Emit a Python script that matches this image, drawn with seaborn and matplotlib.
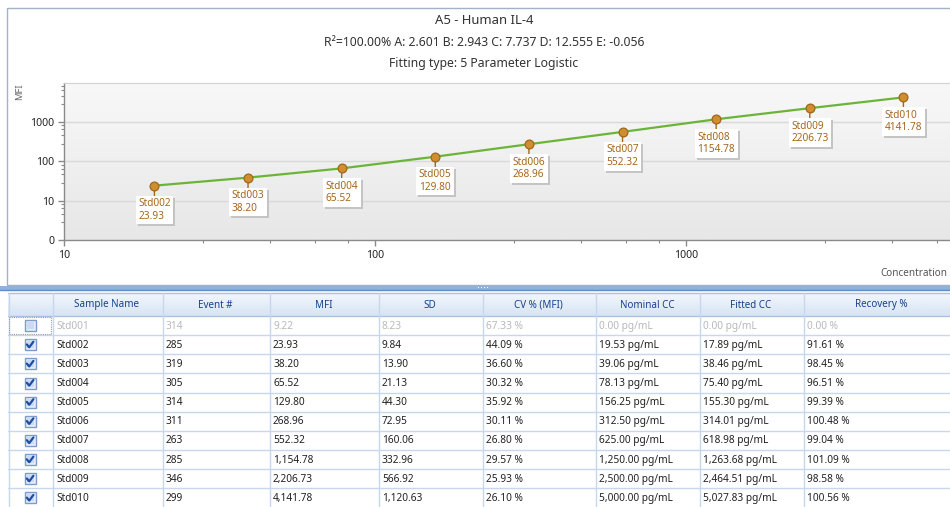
import numpy as np
import pandas as pd
import seaborn as sns
import matplotlib.pyplot as plt
import matplotlib.patheffects as pe
from matplotlib.patches import Rectangle
from matplotlib.colors import LinearSegmentedColormap
from matplotlib.ticker import FixedLocator, NullFormatter

# --------------------------- DATA ---------------------------
sample_names = ['Std001', 'Std002', 'Std003', 'Std004', 'Std005',
                'Std006', 'Std007', 'Std008', 'Std009', 'Std010']
included = [False, True, True, True, True, True, True, True, True, True]
event_counts = [314, 285, 319, 305, 314, 311, 263, 285, 346, 299]
mfi = [9.22, 23.93, 38.20, 65.52, 129.80, 268.96, 552.32, 1154.78, 2206.73, 4141.78]
sd = [8.23, 9.84, 13.90, 21.13, 44.30, 72.95, 160.06, 332.96, 566.92, 1120.63]
cv_pct = [67.33, 44.09, 36.60, 30.32, 35.92, 30.11, 26.80, 29.57, 25.93, 26.10]
nominal_cc = [0.00, 19.53, 39.06, 78.13, 156.25, 312.50, 625.00, 1250.00, 2500.00, 5000.00]
fitted_cc = [0.00, 17.89, 38.46, 75.40, 155.30, 314.01, 618.98, 1263.68, 2464.51, 5027.83]
recovery_pct = [0.00, 91.61, 98.45, 96.51, 99.39, 100.48, 99.04, 101.09, 98.58, 100.56]

table_headers = ['', 'Sample Name', 'Event #', 'MFI', 'SD', 'CV % (MFI)',
                 'Nominal CC', 'Fitted CC', 'Recovery %']

chart_title = 'A5 - Human IL-4'
fit_params = 'R²=100.00% A: 2.601 B: 2.943 C: 7.737 D: 12.555 E: -0.056'
fit_type = 'Fitting type: 5 Parameter Logistic'

df = pd.DataFrame({
    'name': sample_names, 'used': included, 'events': event_counts,
    'mfi': mfi, 'sd': sd, 'cv': cv_pct, 'nominal': nominal_cc,
    'fitted': fitted_cc, 'recovery': recovery_pct,
})
std = df[df['used']]

# --------------------------- STYLE ---------------------------
sns.set_style('white')
plt.rcParams['font.family'] = ['Noto Sans', 'DejaVu Sans']

W, H = 950, 507
fig = plt.figure(figsize=(W / 100, H / 100), dpi=100)
fig.patch.set_facecolor('white')

# overlay axes in pixel coordinates for the panel frame and the grid table
tax = fig.add_axes([0, 0, 1, 1], zorder=0)
tax.set_xlim(0, W)
tax.set_ylim(H, 0)
tax.axis('off')

# chart panel frame
tax.add_patch(Rectangle((6.5, 7.5), 960, 277.5, fill=False, ec='#a3b2c6', lw=1))

# splitter bar
tax.add_patch(Rectangle((0, 286), W, 4, color='#8fb1dc', lw=0))
tax.plot([0, W], [289.5, 289.5], color='#5f8dc8', lw=1)
for dx in range(4):
    tax.add_patch(Rectangle((478 + dx * 3, 286.5), 1.2, 1.2, color='white', lw=0))

# --------------------------- CHART ---------------------------
ax = fig.add_axes([64 / W, 1 - 240 / H, (W - 64) / W, (240 - 83) / H], zorder=2)
ax.set_xscale('log')
ax.set_yscale('log')
ax.set_xlim(10, 7060)
ax.set_ylim(1, 9600)

grad = np.linspace(0, 1, 100).reshape(-1, 1)
ax.imshow(grad, extent=[0, 1, 0, 1], transform=ax.transAxes, aspect='auto',
          cmap=LinearSegmentedColormap.from_list('bg', ['#f8f8f8', '#e7e7e7']),
          zorder=0)

for yv in [10, 100, 1000]:
    ax.axhline(yv, color='#d9d9d9', lw=1, zorder=1)

sns.lineplot(data=std, x='nominal', y='mfi', color='#6cb437', lw=1.6,
             ax=ax, zorder=3, legend=False)
sns.scatterplot(data=std, x='nominal', y='mfi', s=40, color='#cf8f2e',
                edgecolor='#a0661c', linewidth=0.9, ax=ax, zorder=5, legend=False)

# point labels with stem and shadowed box
for _, r in std.iterrows():
    ann = ax.annotate(f"{r['name']}\n{r['mfi']:.2f}",
                      xy=(r['nominal'], r['mfi']), xytext=(0, -9),
                      textcoords='offset points', ha='center', va='top',
                      multialignment='left', fontsize=7.3, color='#a5681c',
                      linespacing=1.2,
                      bbox=dict(boxstyle='square,pad=0.25', fc='white', ec='none'),
                      arrowprops=dict(arrowstyle='-', color='#a5681c', lw=1,
                                      shrinkA=0, shrinkB=0),
                      zorder=4)
    ann.get_bbox_patch().set_path_effects(
        [pe.SimplePatchShadow(offset=(1.5, -1.5), shadow_rgbFace='#c4c4c4', alpha=1),
         pe.Normal()])

ax.set_xlabel('')
ax.set_ylabel('')
ax.yaxis.set_major_locator(FixedLocator([1, 10, 100, 1000]))
ax.set_yticklabels(['0', '10', '100', '1000'])
ax.xaxis.set_major_locator(FixedLocator([10, 100, 1000]))
ax.set_xticklabels(['10', '100', '1000'])
minor_x = [m * d for d in [10, 100, 1000] for m in [2.8, 4.6, 6.4, 8.2]]
minor_y = [m * d for d in [1, 10, 100, 1000] for m in [2.8, 4.6, 6.4, 8.2]]
ax.xaxis.set_minor_locator(FixedLocator(minor_x))
ax.yaxis.set_minor_locator(FixedLocator(minor_y))
ax.xaxis.set_minor_formatter(NullFormatter())
ax.yaxis.set_minor_formatter(NullFormatter())
ax.tick_params(which='major', length=4, width=1, color='#8a8a8a',
               labelsize=7.6, labelcolor='#222222', pad=3)
ax.tick_params(which='minor', length=2.5, width=0.8, color='#8a8a8a')
ax.tick_params(axis='x', which='both', bottom=True, direction='out')
ax.tick_params(axis='y', which='both', left=True, direction='out')
for side in ['left', 'bottom']:
    ax.spines[side].set_color('#8a8a8a')
    ax.spines[side].set_linewidth(1)
ax.spines['top'].set_color('#d2d2d2')
ax.spines['right'].set_visible(False)

fig.text(484 / W, 1 - 21 / H, chart_title, ha='center', va='center',
         fontsize=9.4, color='#333333')
fig.text(484 / W, 1 - 43 / H, fit_params, ha='center', va='center',
         fontsize=8.8, color='#333333')
fig.text(484 / W, 1 - 64 / H, fit_type, ha='center', va='center',
         fontsize=8.8, color='#333333')
fig.text(20 / W, 1 - 84 / H, 'MFI', ha='center', va='top', rotation=90,
         fontsize=6.8, color='#666666')
fig.text(947 / W, 1 - 273 / H, 'Concentration', ha='right', va='center',
         fontsize=7.2, color='#555555')

# --------------------------- TABLE ---------------------------
col_edges = [8, 52, 162, 269, 378, 482, 595, 699, 803, 960]
head_top, head_bot = 293, 316
row_h = 19.15
grid_c = '#c6d7ee'

hgrad = np.linspace(0, 1, 50).reshape(-1, 1)
tax.imshow(hgrad, extent=[8, 960, head_bot, head_top], aspect='auto',
           cmap=LinearSegmentedColormap.from_list('hd', ['#f3f7fc', '#d7e4f4']),
           zorder=0)
tax.set_xlim(0, W)
tax.set_ylim(H, 0)
tax.plot([8, 960], [head_top, head_top], color='#a9c1e2', lw=1)
tax.plot([8, 960], [head_bot, head_bot], color='#a9c1e2', lw=1)
for j, h in enumerate(table_headers):
    cx = (col_edges[j] + col_edges[j + 1]) / 2
    tax.text(cx, (head_top + head_bot) / 2 + 0.5, h, ha='center', va='center',
             fontsize=7.1, color='#15428b')

for e in col_edges[:-1]:
    tax.plot([e + 0.5, e + 0.5], [head_top, H], color=grid_c, lw=1)

for i, r in df.iterrows():
    top = head_bot + i * row_h
    bot = top + row_h
    cy = (top + bot) / 2
    tax.plot([8, 960], [bot, bot], color=grid_c, lw=1)
    tc = '#222222' if r['used'] else '#b9b9b9'
    cells = [
        r['name'],
        f"{r['events']}",
        f"{r['mfi']:,.2f}",
        f"{r['sd']:,.2f}",
        f"{r['cv']:.2f} %",
        f"{r['nominal']:,.2f} pg/mL",
        f"{r['fitted']:,.2f} pg/mL",
        f"{r['recovery']:.2f} %",
    ]
    for j, c in enumerate(cells):
        tax.text(col_edges[j + 1] + 4, cy + 0.5, c, ha='left', va='center',
                 fontsize=7.3, color=tc)
    # checkbox
    tax.add_patch(Rectangle((24.5, cy - 5.5), 11, 11, fc='#e4edf9',
                            ec='#7f9cc6', lw=1, zorder=3))
    tax.add_patch(Rectangle((26.5, cy - 3.5), 7, 7, fc='#c9daf1',
                            ec='none', zorder=3))
    if r['used']:
        tax.plot([26.8, 29.2, 33.4], [cy - 0.3, cy + 2.6, cy - 3.0],
                 color='#1f4e9e', lw=1.6, zorder=4, solid_capstyle='round')
    else:
        tax.add_patch(Rectangle((9, top + 1), 42, row_h - 2, fill=False,
                                ec='#9a9a9a', lw=0.8, ls=(0, (1, 1)), zorder=3))

fig.savefig('out.png', dpi=100)
